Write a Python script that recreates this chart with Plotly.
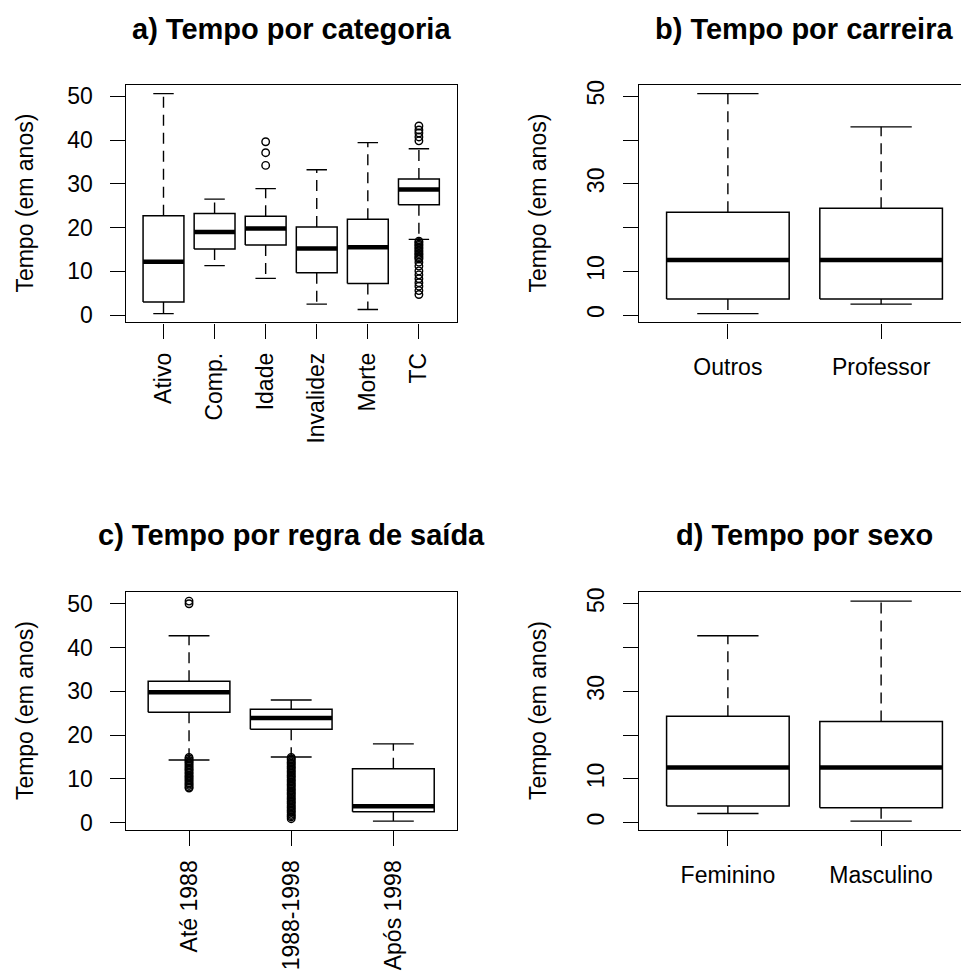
import plotly.graph_objects as go

W, H = 961, 978

# ---- a) time by category ----
cat_a = ["Ativo", "Comp.", "Idade", "Invalidez", "Morte", "TC"]
low_a = [0.35, 11.3, 8.4, 2.5, 1.3, 17.3]
q1_a = [3.0, 15.1, 16.0, 9.65, 7.2, 25.2]
med_a = [12.2, 19.0, 19.8, 15.2, 15.5, 28.7]
q3_a = [22.7, 23.2, 22.6, 20.1, 21.9, 31.1]
up_a = [50.6, 26.5, 28.9, 33.2, 39.4, 38.0]
out_a = [
    [],
    [],
    [34.2, 37.1, 39.6],
    [],
    [],
    [39.8, 40.7, 41.6, 42.3, 43.2,
     16.9, 16.6, 16.2, 15.9, 15.5, 15.2, 14.8, 14.5, 14.1, 13.8, 13.4, 13.1,
     12.8, 12.1, 11.2, 10.1, 9.2, 8.3, 7.4, 6.6, 5.6, 4.7],
]

# ---- b) time by career ----
cat_b = ["Outros", "Professor"]
low_b = [0.35, 2.5]
q1_b = [3.7, 3.7]
med_b = [12.6, 12.6]
q3_b = [23.5, 24.4]
up_b = [50.6, 43.0]
out_b = [[], []]

# ---- c) time by exit rule ----
cat_c = ["Até 1988", "1988-1998", "Após 1998"]
low_c = [14.3, 15.0, 0.35]
q1_c = [25.2, 21.35, 2.5]
med_c = [29.8, 23.9, 3.76]
q3_c = [32.3, 25.9, 12.3]
up_c = [42.7, 28.0, 18.0]
out_c = [
    [50.0, 50.6,
     14.9, 14.6, 14.2, 13.9, 13.6, 13.2, 12.9, 12.5, 12.2, 11.9, 11.5, 11.2,
     10.8, 10.5, 10.2, 9.8, 9.5, 9.1, 8.8, 8.5, 8.1, 7.9],
    [14.9, 14.6, 14.3, 13.9, 13.6, 13.3, 12.9, 12.6, 12.3, 11.9, 11.6, 11.3,
     10.9, 10.6, 10.3, 9.9, 9.6, 9.3, 8.9, 8.6, 8.3, 7.9, 7.6, 7.3, 6.9, 6.6,
     6.3, 5.9, 5.6, 5.3, 4.9, 4.6, 4.3, 3.9, 3.6, 3.3, 2.9, 2.6, 2.3, 1.9,
     1.6, 1.3, 0.9],
    [],
]

# ---- d) time by sex ----
cat_d = ["Feminino", "Masculino"]
low_d = [2.1, 0.35]
q1_d = [3.8, 3.4]
med_d = [12.6, 12.6]
q3_d = [24.3, 23.1]
up_d = [42.7, 50.6]
out_d = [[], []]

titles = ["a) Tempo por categoria", "b) Tempo por carreira",
          "c) Tempo por regra de saída", "d) Tempo por sexo"]
ylab = "Tempo (em anos)"

FONT = "Liberation Sans, Arial, sans-serif"
TICK_SIZE = 23
TITLE_SIZE = 29
BOXW = 0.8      # box width in axis units
STAPLE = 0.4    # staple width (half the box)

fig = go.Figure()


def add_boxes(xa, ya, low, q1, med, q3, up, outs):
    n = len(med)
    pos = list(range(1, n + 1))
    hw, sw = BOXW / 2, STAPLE / 2
    wx, wy, bx, by, mx, my, sx, sy, ox, oy = ([] for _ in range(10))
    for p, lo, a, m, b, hi, o in zip(pos, low, q1, med, q3, up, outs):
        wx += [p, p, None, p, p, None]
        wy += [b, hi, None, a, lo, None]
        bx += [p - hw, p + hw, p + hw, p - hw, p - hw, None]
        by += [a, a, b, b, a, None]
        mx += [p - hw, p + hw, None]
        my += [m, m, None]
        sx += [p - sw, p + sw, None, p - sw, p + sw, None]
        sy += [hi, hi, None, lo, lo, None]
        ox += [p] * len(o)
        oy += list(o)
    common = dict(xaxis=xa, yaxis=ya, showlegend=False, hoverinfo="skip")
    fig.add_trace(go.Scatter(x=wx, y=wy, mode="lines",
                             line=dict(color="black", width=1.4, dash="11px,7px"), **common))
    fig.add_trace(go.Scatter(x=bx, y=by, mode="lines",
                             line=dict(color="black", width=1.5), **common))
    fig.add_trace(go.Scatter(x=mx, y=my, mode="lines",
                             line=dict(color="black", width=4.6), **common))
    fig.add_trace(go.Scatter(x=sx, y=sy, mode="lines",
                             line=dict(color="black", width=1.4), **common))
    fig.add_trace(go.Scatter(x=ox, y=oy, mode="markers",
                             marker=dict(symbol="circle-open", size=7.5, color="black",
                                         line=dict(width=1.4, color="black")), **common))
    return pos


panels = [
    ("x", "y", cat_a, low_a, q1_a, med_a, q3_a, up_a, out_a),
    ("x2", "y2", cat_b, low_b, q1_b, med_b, q3_b, up_b, out_b),
    ("x3", "y3", cat_c, low_c, q1_c, med_c, q3_c, up_c, out_c),
    ("x4", "y4", cat_d, low_d, q1_d, med_d, q3_d, up_d, out_d),
]

# plot regions in pixels: (left, right, top, bottom)
L1, R1 = 125.7, 456.7
L2 = 639.0
T1, B1 = 80.7, 321.0
T2, B2 = 594.0, 834.3

def fx(px):
    return px / W

def fy(py):
    return 1 - py / H

domains = [
    ([fx(L1), fx(R1)], [fy(B1), fy(T1)]),
    ([fx(L2), 1.0], [fy(B1), fy(T1)]),
    ([fx(L1), fx(R1)], [fy(B2), fy(T2)]),
    ([fx(L2), 1.0], [fy(B2), fy(T2)]),
]

yvals = [0, 10, 20, 30, 40, 50]
layout = {}
for i, (xa, ya, cats, lo, q1, md, q3, hi, outs) in enumerate(panels):
    pos = add_boxes(xa, ya, lo, q1, md, q3, hi, outs)
    n = len(cats)
    # R-style 4% padding of the data range
    allv = lo + hi + [v for o in outs for v in o]
    vmin, vmax = min(allv), max(allv)
    pad = 0.04 * (vmax - vmin)
    xpad = 0.04 * n
    xr = [0.5 - xpad, n + 0.5 + xpad]
    wide = i in (1, 3)
    if wide:
        # the right part of these panels runs past the page edge
        full_px = (R1 - L1)
        xr = [xr[0], xr[0] + (xr[1] - xr[0]) * (W - L2) / full_px]
    xkey = "xaxis" if i == 0 else f"xaxis{i + 1}"
    ykey = "yaxis" if i == 0 else f"yaxis{i + 1}"
    dx, dy = domains[i]
    rot = i in (0, 2)
    layout[xkey] = dict(
        domain=dx, anchor=ya, range=xr, tickvals=pos, ticktext=cats,
        tickangle=-90 if rot else 0, ticks="outside", ticklen=15, tickwidth=1.4,
        tickcolor="black", showline=True, linecolor="black", linewidth=1.4,
        mirror=True, showgrid=False, zeroline=False, fixedrange=True,
        ticklabelstandoff=5 if rot else 9,
        tickfont=dict(family=FONT, size=TICK_SIZE, color="black"),
    )
    layout[ykey] = dict(
        domain=dy, anchor=xa, range=[vmin - pad, vmax + pad], tickvals=yvals,
        ticktext=[str(v) for v in yvals] if rot else ["0", "10", "", "30", "", "50"],
        tickangle=0 if rot else -90, ticks="outside", ticklen=15, tickwidth=1.4,
        tickcolor="black", showline=True, linecolor="black", linewidth=1.4,
        mirror=not wide, showgrid=False, zeroline=False, fixedrange=True,
        ticklabelstandoff=12 if rot else 10,
        tickfont=dict(family=FONT, size=TICK_SIZE, color="black"),
    )

annotations = []
title_pos = [((L1 + R1) / 2, 24), (804, 24), ((L1 + R1) / 2, 536), (804, 536)]
ylab_pos = [(25, (T1 + B1) / 2), (538, (T1 + B1) / 2), (25, (T2 + B2) / 2), (538, (T2 + B2) / 2)]
for t, (tx, ty), (lx, ly) in zip(titles, title_pos, ylab_pos):
    annotations.append(dict(text=f"<b>{t}</b>", x=fx(tx), y=fy(ty), xref="paper", yref="paper",
                            xanchor="center", yanchor="middle", showarrow=False,
                            font=dict(family=FONT, size=TITLE_SIZE, color="black")))
    annotations.append(dict(text=ylab, x=fx(lx), y=fy(ly), xref="paper", yref="paper",
                            xanchor="center", yanchor="middle", showarrow=False, textangle=-90,
                            font=dict(family=FONT, size=TICK_SIZE, color="black")))

fig.update_layout(
    width=W, height=H, margin=dict(l=0, r=0, t=0, b=0),
    paper_bgcolor="white", plot_bgcolor="white",
    annotations=annotations, **layout,
)

fig.write_html("out.html")
